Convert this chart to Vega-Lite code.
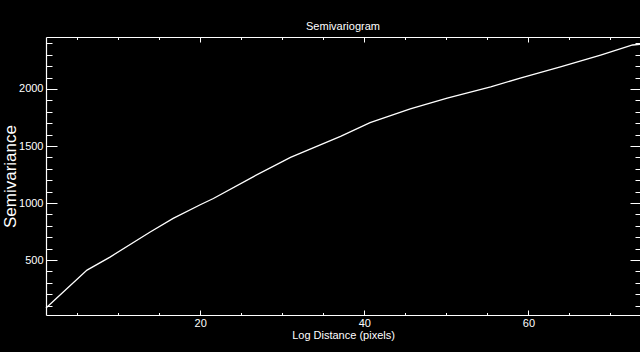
{
  "$schema": "https://vega.github.io/schema/vega-lite/v6.json",
  "width": 594,
  "height": 278,
  "autosize": {"type": "none"},
  "padding": {"left": 46, "top": 37, "right": 0, "bottom": 37},
  "background": "black",
  "title": {
    "text": "Semivariogram",
    "color": "white",
    "font": "Liberation Sans",
    "fontSize": 11,
    "fontWeight": "normal",
    "offset": 5,
    "frame": "group",
    "anchor": "middle"
  },
  "config": {
    "view": {"stroke": null},
    "axis": {
      "grid": false,
      "labelColor": "white",
      "tickColor": "white",
      "domainColor": "white",
      "titleColor": "white",
      "labelFont": "Liberation Sans",
      "titleFont": "Liberation Sans",
      "labelFontSize": 11,
      "titleFontSize": 11,
      "titleFontWeight": "normal",
      "tickWidth": 1,
      "domainWidth": 1.2
    }
  },
  "data": {
    "values": [
      {"lag": 1.2, "semivariance": 79},
      {"lag": 6.2, "semivariance": 412},
      {"lag": 9.0, "semivariance": 526},
      {"lag": 13.9, "semivariance": 746},
      {"lag": 16.7, "semivariance": 865},
      {"lag": 20.0, "semivariance": 985},
      {"lag": 21.6, "semivariance": 1040},
      {"lag": 26.5, "semivariance": 1232},
      {"lag": 31.0, "semivariance": 1400},
      {"lag": 37.1, "semivariance": 1585},
      {"lag": 40.7, "semivariance": 1705},
      {"lag": 45.6, "semivariance": 1825},
      {"lag": 50.1, "semivariance": 1921},
      {"lag": 55.4, "semivariance": 2018},
      {"lag": 59.0, "semivariance": 2096},
      {"lag": 63.9, "semivariance": 2193},
      {"lag": 68.8, "semivariance": 2298},
      {"lag": 72.7, "semivariance": 2386},
      {"lag": 73.6, "semivariance": 2392}
    ]
  },
  "layer": [
    {
      "mark": {"type": "line", "color": "white", "strokeWidth": 1.3},
      "encoding": {
        "x": {
          "field": "lag", "type": "quantitative",
          "scale": {"domain": [1.2, 73.6], "nice": false, "zero": false},
          "axis": {
            "orient": "bottom", "values": [20, 40, 60], "tickSize": -5, "format": "d",
            "labelPadding": 7, "title": "Log Distance (pixels)", "titlePadding": 1
          }
        },
        "y": {
          "field": "semivariance", "type": "quantitative",
          "scale": {"domain": [18, 2456], "nice": false, "zero": false},
          "axis": {
            "orient": "left", "values": [500, 1000, 1500, 2000], "tickSize": -11, "format": "d",
            "labelPadding": 14, "title": "Semivariance", "titleFontSize": 17,
            "titleAngle": 270, "titleX": -31, "titleY": 139,
            "titleAlign": "center", "titleBaseline": "alphabetic"
          }
        }
      }
    },
    {
      "mark": {"type": "line", "opacity": 0},
      "encoding": {
        "x": {
          "field": "lag", "type": "quantitative",
          "scale": {"domain": [1.2, 73.6], "nice": false, "zero": false},
          "axis": {
            "orient": "bottom", "values": [5, 10, 15, 25, 30, 35, 45, 50, 55, 65, 70],
            "tickSize": -2.5, "labels": false, "domain": false, "title": null
          }
        },
        "y": {
          "field": "semivariance", "type": "quantitative",
          "scale": {"domain": [18, 2456], "nice": false, "zero": false},
          "axis": {
            "orient": "left",
            "values": [100, 200, 300, 400, 600, 700, 800, 900, 1100, 1200, 1300, 1400, 1600, 1700, 1800, 1900, 2100, 2200, 2300, 2400],
            "tickSize": -6, "labels": false, "domain": false, "title": null
          }
        }
      }
    },
    {
      "mark": {"type": "line", "opacity": 0},
      "encoding": {
        "x": {
          "field": "lag", "type": "quantitative",
          "scale": {"domain": [1.2, 73.6], "nice": false, "zero": false},
          "axis": {
            "orient": "top", "values": [20, 40, 60],
            "tickSize": -5, "labels": false, "title": null
          }
        },
        "y": {
          "field": "semivariance", "type": "quantitative",
          "scale": {"domain": [18, 2456], "nice": false, "zero": false},
          "axis": {
            "orient": "right", "values": [500, 1000, 1500, 2000],
            "tickSize": -10, "labels": false, "domain": false, "title": null
          }
        }
      }
    },
    {
      "mark": {"type": "line", "opacity": 0},
      "encoding": {
        "x": {
          "field": "lag", "type": "quantitative",
          "scale": {"domain": [1.2, 73.6], "nice": false, "zero": false},
          "axis": {
            "orient": "top", "values": [5, 10, 15, 25, 30, 35, 45, 50, 55, 65, 70],
            "tickSize": -2.5, "labels": false, "domain": false, "title": null
          }
        },
        "y": {
          "field": "semivariance", "type": "quantitative",
          "scale": {"domain": [18, 2456], "nice": false, "zero": false},
          "axis": {
            "orient": "right",
            "values": [100, 200, 300, 400, 600, 700, 800, 900, 1100, 1200, 1300, 1400, 1600, 1700, 1800, 1900, 2100, 2200, 2300, 2400],
            "tickSize": -5, "labels": false, "domain": false, "title": null
          }
        }
      }
    }
  ],
  "resolve": {"axis": {"x": "independent", "y": "independent"}}
}
